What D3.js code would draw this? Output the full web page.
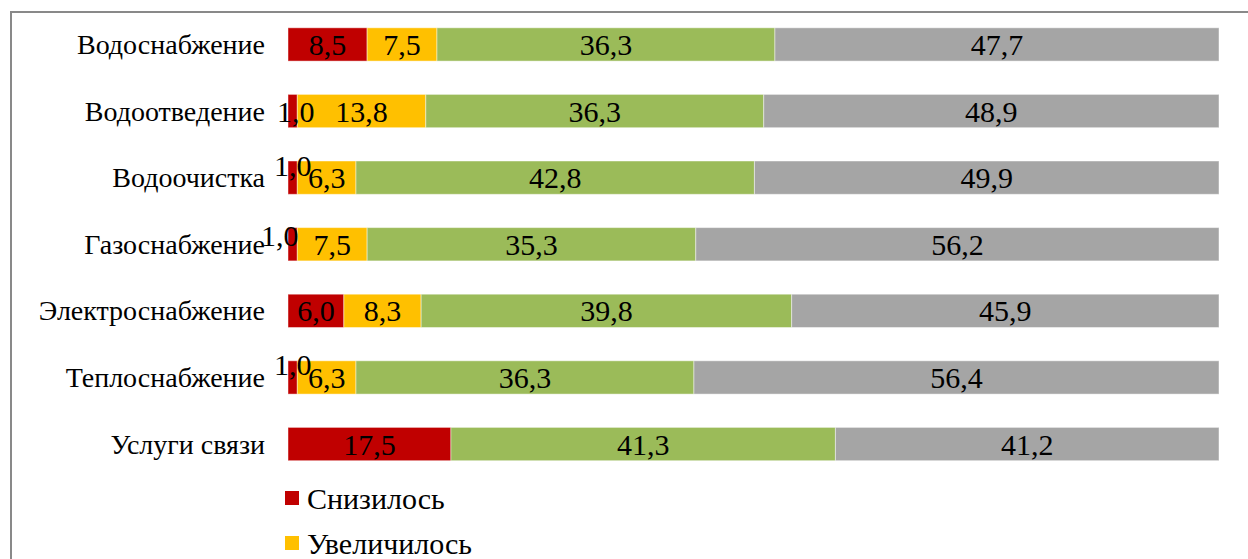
<!DOCTYPE html>
<html>
<head>
<meta charset="utf-8">
<script src="https://cdn.jsdelivr.net/npm/d3@7"></script>
<style>
  body { margin: 0; background: #fff; }
  svg { display: block; }
</style>
</head>
<body>
<div id="chart"></div>
<script>
// categories (top to bottom)
let categories = ['Водоснабжение', 'Водоотведение', 'Водоочистка', 'Газоснабжение',
  'Электроснабжение', 'Теплоснабжение', 'Услуги связи'];

// series, shares in %
let seriesNames = ['Снизилось', 'Увеличилось', 'Не изменилось', 'Затрудняюсь ответить'];
let decreased = [8.5, 1.0, 1.0, 1.0, 6.0, 1.0, 17.5];
let increased = [7.5, 13.8, 6.3, 7.5, 8.3, 6.3, 0];
let unchanged = [36.3, 36.3, 42.8, 35.3, 39.8, 36.3, 41.3];
let noAnswer = [47.7, 48.9, 49.9, 56.2, 45.9, 56.4, 41.2];

let colors = ['#C00000', '#FFC000', '#9BBB59', '#A5A5A5'];

let width = 1248,
  height = 559;

let fontFamily = '"Liberation Serif", "Times New Roman", "DejaVu Serif", serif';

let svg = d3.select('#chart')
  .append('svg')
  .attr('width', width)
  .attr('height', height)
  .style('font-family', fontFamily);

// frame of the chart area
svg.append('path')
  .attr('d', `M11,${height} L11,12 L${width},12`)
  .attr('fill', 'none')
  .attr('stroke', '#898989')
  .attr('stroke-width', 2);

// build rows for the stack
let table = categories.map(function(c, i) {
  return {
    cat: c,
    s0: decreased[i],
    s1: increased[i],
    s2: unchanged[i],
    s3: noAnswer[i]
  };
});

let stack = d3.stack().keys(['s0', 's1', 's2', 's3']);
let layers = stack(table);

let xScale = d3.scaleLinear()
  .domain([0, 100])
  .range([288, 1219]);

let yScale = d3.scaleBand()
  .domain(categories)
  .range([-5.5, 494])
  .paddingInner(0.5)
  .paddingOuter(0.5);

// category axis, no line, no ticks
let yAxis = svg.append('g')
  .attr('transform', 'translate(265,0)')
  .call(d3.axisLeft(yScale).tickSize(0).tickPadding(0));
yAxis.attr('font-family', null);
yAxis.select('.domain').remove();
yAxis.selectAll('text')
  .style('font-family', fontFamily)
  .style('font-size', '28px')
  .attr('fill', '#000')
  .attr('dy', '0.34em');

// bars
let groups = svg.selectAll('g.layer')
  .data(layers)
  .enter()
  .append('g')
  .attr('class', 'layer')
  .attr('fill', function(d, i) { return colors[i]; });

groups.selectAll('rect')
  .data(function(d) { return d; })
  .enter()
  .append('rect')
  .attr('x', function(d) { return xScale(d[0]); })
  .attr('y', function(d) { return yScale(d.data.cat); })
  .attr('width', function(d) { return xScale(d[1]) - xScale(d[0]); })
  .attr('height', yScale.bandwidth())
  .attr('stroke', 'rgba(255,255,255,0.45)')
  .attr('stroke-width', 1);

// small labels that Excel pushed away from the centre
let nudge = {
  'Водоочистка': [0, -12],
  'Газоснабжение': [-13, -9],
  'Теплоснабжение': [0, -13],
  'Водоотведение': [3, 0]
};

let fmt = function(v) { return d3.format('.1f')(v).replace('.', ','); };

// value labels go on top of every bar
let labelData = [];
layers.forEach(function(layer, li) {
  layer.forEach(function(d) {
    if (d[1] - d[0] > 0) labelData.push({ li: li, d: d });
  });
});

svg.append('g')
  .selectAll('text')
  .data(labelData)
  .enter()
  .append('text')
  .attr('x', function(o) {
    let n = (o.li == 0 && nudge[o.d.data.cat]) ? nudge[o.d.data.cat][0] : 0;
    return (xScale(o.d[0]) + xScale(o.d[1])) / 2 + n;
  })
  .attr('y', function(o) {
    let n = (o.li == 0 && nudge[o.d.data.cat]) ? nudge[o.d.data.cat][1] : 0;
    return yScale(o.d.data.cat) + yScale.bandwidth() / 2 + n;
  })
  .attr('dy', '0.35em')
  .attr('text-anchor', 'middle')
  .attr('fill', '#000')
  .style('font-size', '30px')
  .text(function(o) { return fmt(o.d[1] - o.d[0]); });

// legend (only the first two entries fit on the page)
let legend = svg.selectAll('g.legend')
  .data(seriesNames.slice(0, 2))
  .enter()
  .append('g')
  .attr('class', 'legend')
  .attr('transform', function(d, i) { return `translate(285,${491 + i * 45})`; });

legend.append('rect')
  .attr('width', 14)
  .attr('height', 14)
  .attr('fill', function(d, i) { return colors[i]; });

legend.append('text')
  .attr('x', 22)
  .attr('y', 18)
  .attr('fill', '#000')
  .style('font-size', '30px')
  .text(function(d) { return d; });
</script>
</body>
</html>
